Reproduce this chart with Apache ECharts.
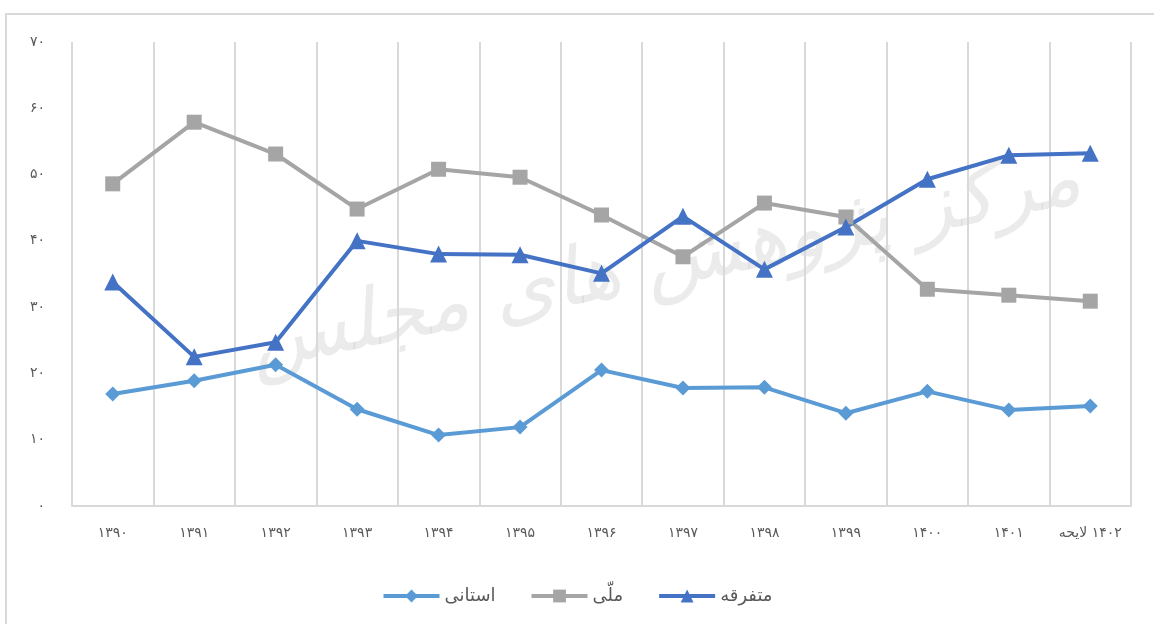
<!DOCTYPE html>
<html>
<head>
<meta charset="utf-8">
<script src="https://cdn.jsdelivr.net/npm/echarts@6/dist/echarts.min.js"></script>
<style>
  html,body{margin:0;padding:0;background:#fff;}
  #chart{width:1154px;height:624px;}
</style>
</head>
<body>
<div id="chart"></div>
<script>
// سال‌ها
let years = ['۱۳۹۰','۱۳۹۱','۱۳۹۲','۱۳۹۳','۱۳۹۴','۱۳۹۵','۱۳۹۶','۱۳۹۷','۱۳۹۸','۱۳۹۹','۱۴۰۰','۱۴۰۱','لایحه ۱۴۰۲']
let yTicks = ['۰','۱۰','۲۰','۳۰','۴۰','۵۰','۶۰','۷۰']

let ostani = [16.9, 18.9, 21.3, 14.6, 10.7, 11.9, 20.5, 17.8, 17.9, 14.0, 17.3, 14.5, 15.1]
let melli = [48.6, 57.9, 53.1, 44.8, 50.8, 49.6, 43.9, 37.6, 45.7, 43.6, 32.7, 31.8, 30.9]
let motefareghe = [33.8, 22.5, 24.7, 40.0, 38.0, 37.9, 35.1, 43.7, 35.7, 42.1, 49.3, 52.9, 53.2]

let font = "'DejaVu Sans', sans-serif"
let myChart = echarts.init(document.getElementById("chart"))

myChart.setOption({
    animation:false,
    textStyle:{fontFamily:font},
    graphic:[
        {
            type:"rect",
            shape:{x:6,y:14,width:1170,height:640},
            style:{fill:"none",stroke:"#d9d9d9",lineWidth:2},
            silent:true
        },
        {
            type:"text",
            x:665,
            y:265,
            rotation:0.2,
            z:-1,
            silent:true,
            style:{
                text:"مرکز پژوهش های مجلس",
                fill:"rgba(190,190,190,0.3)",
                font:"italic 80px 'DejaVu Sans'",
                align:"center",
                verticalAlign:"middle"
            }
        }
    ],
    grid:{
        left:72,
        right:23,
        top:42,
        bottom:118,
        containLabel:false
    },
    legend:{
        bottom:14,
        left:"center",
        itemWidth:56,
        itemHeight:16,
        itemGap:34,
        lineStyle:{width:4},
        textStyle:{fontSize:18,color:"#595959",fontFamily:font},
        data:['استانی','ملّی','متفرقه']
    },
    xAxis:{
        type:"category",
        data:years,
        boundaryGap:true,
        axisTick:{show:false},
        axisLine:{lineStyle:{color:"#d9d9d9",width:2}},
        axisLabel:{
            color:"#595959",
            fontSize:14,
            margin:20,
            interval:0,
            fontFamily:font,
            // کلمه سمت چپ و عدد سمت راست
            formatter:(v)=>{
                let p = v.split(' ')
                if(p.length>1) return '{a|'+p[0]+'} {a|'+p[1]+'}'
                return v
            },
            rich:{a:{color:"#595959",fontSize:14,fontFamily:font}}
        },
        splitLine:{show:true,lineStyle:{color:"#d9d9d9",width:2}}
    },
    yAxis:{
        type:"value",
        min:0,
        max:70,
        interval:10,
        axisLine:{show:false},
        axisTick:{show:false},
        splitLine:{show:false},
        axisLabel:{
            color:"#595959",
            fontSize:14,
            margin:27,
            fontFamily:font,
            formatter:(v)=>yTicks[Math.round(v/10)]
        }
    },
    series:[
        {
            type:"line",
            name:"استانی",
            data:ostani,
            symbol:"diamond",
            symbolSize:15,
            itemStyle:{color:"#5b9bd5"},
            lineStyle:{color:"#5b9bd5",width:4}
        },
        {
            type:"line",
            name:"ملّی",
            data:melli,
            symbol:"rect",
            symbolSize:15,
            itemStyle:{color:"#a5a5a5"},
            lineStyle:{color:"#a5a5a5",width:4}
        },
        {
            type:"line",
            name:"متفرقه",
            data:motefareghe,
            symbol:"triangle",
            symbolSize:17,
            itemStyle:{color:"#4472c4"},
            lineStyle:{color:"#4472c4",width:4}
        }
    ]
})
</script>
</body>
</html>
